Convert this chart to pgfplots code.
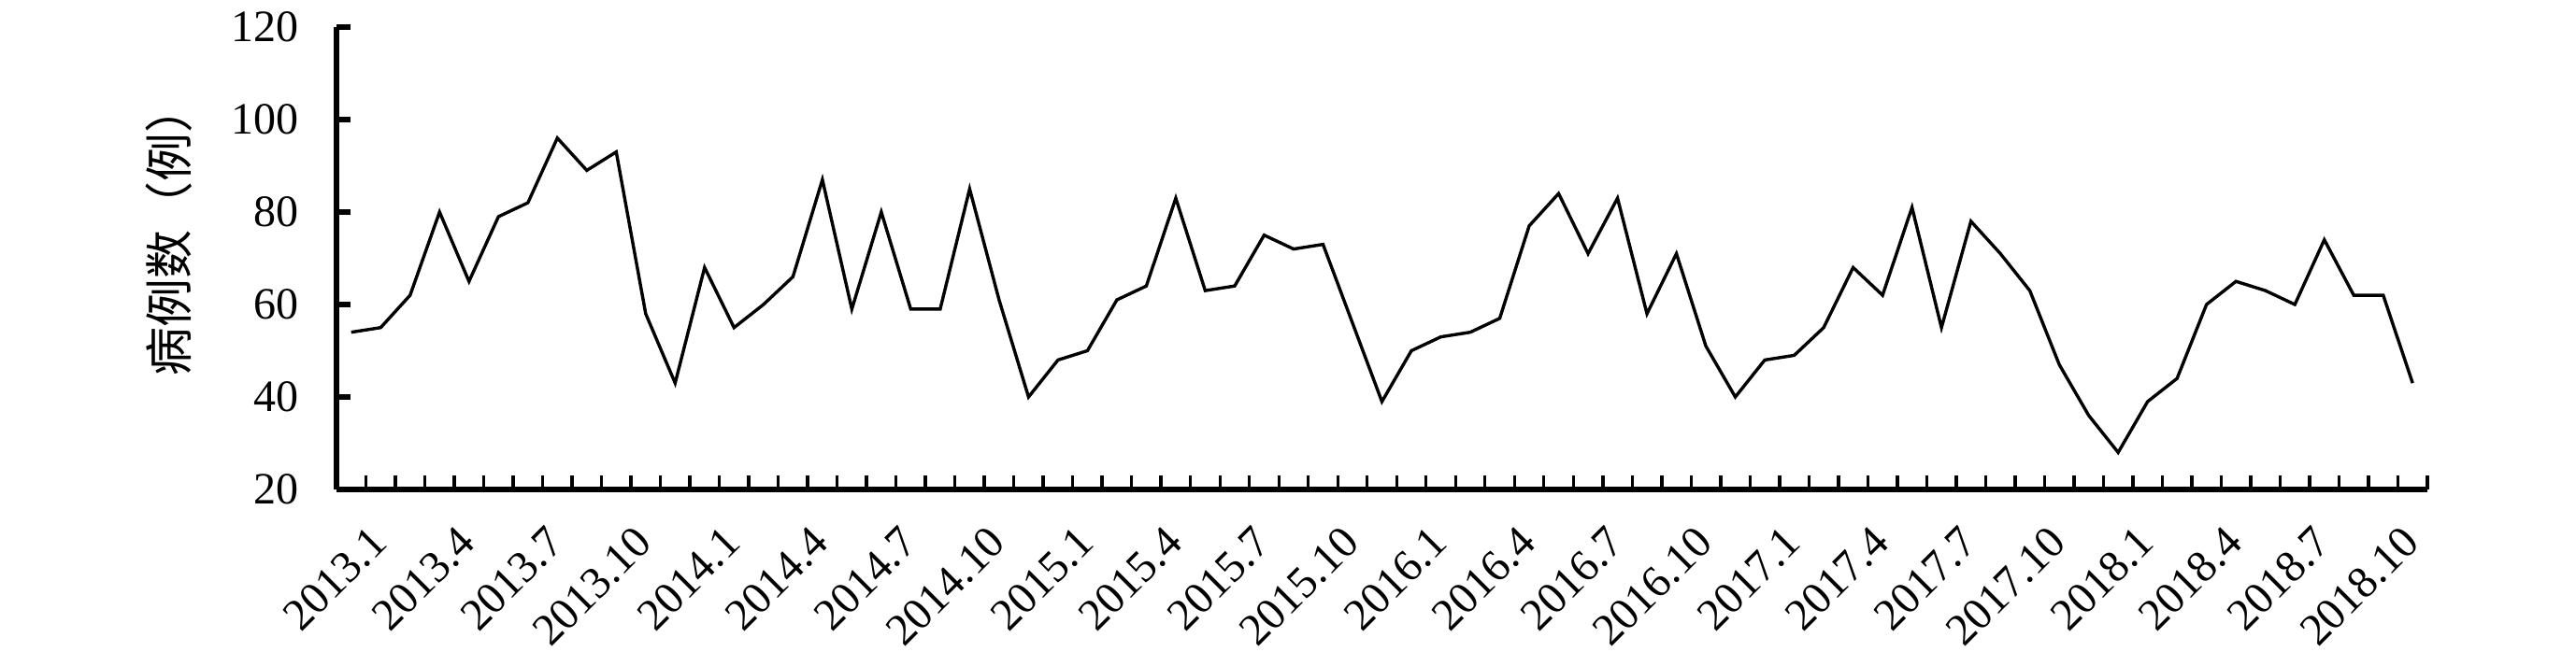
\documentclass[border=0pt]{standalone}
\usepackage{pgfplots}
\pgfplotsset{compat=1.18}
\usepackage{fontspec}
\setmainfont{Liberation Serif}
\newfontfamily\cjk{Noto Sans CJK SC}
\begin{document}
\begin{tikzpicture}
\useasboundingbox (-90pt,-47.25pt) rectangle (599pt,131pt);
\begin{axis}[
  at={(0,0)}, anchor=south west,
  scale only axis,
  width=559.25pt, height=123.75pt,
  xmin=-0.5, xmax=70.5,
  ymin=20, ymax=120,
  ytick={20,40,...,120},
  axis x line*=bottom, axis y line*=left,
  axis line style={line width=1.4pt, black},
  tick align=inside,
  major tick length=3.7pt,
  /pgf/number format/assume math mode=true,
  tick label style={font=\fontsize{12}{14}\selectfont},
  yticklabel style={xshift=-6.5pt},
  y tick style={line width=1.4pt, black},
  x tick style={line width=0.85pt, black},
  xtick={0.5,1.5,...,70.5},
  xticklabels={},
  extra x ticks={0,3,...,69},
  extra x tick labels={2013.1,2013.4,2013.7,2013.10,2014.1,2014.4,2014.7,2014.10,2015.1,2015.4,2015.7,2015.10,2016.1,2016.4,2016.7,2016.10,2017.1,2017.4,2017.7,2017.10,2018.1,2018.4,2018.7,2018.10},
  extra x tick style={major tick length=0pt, tick style={draw=none},
    xticklabel style={inner sep=0pt, xshift=4.5pt, yshift=-9pt, rotate=45, anchor=north east}},
  ylabel={\cjk 病例数（例）},
  ylabel style={at={(axis description cs:-0.08,0.56)}, anchor=center, rotate=0, font=\fontsize{13}{15}\selectfont},
  clip=false,
]
\addplot[black, line width=0.85pt, line join=miter] table[x expr=\coordindex, y index=0, header=false] {
54
55
62
80
65
79
82
96
89
93
58
43
68
55
60
66
87
59
80
59
59
85
61
40
48
50
61
64
83
63
64
75
72
73
56
39
50
53
54
57
77
84
71
83
58
71
51
40
48
49
55
68
62
81
55
78
71
63
47
36
28
39
44
60
65
63
60
74
62
62
43
};
\end{axis}
\end{tikzpicture}
\end{document}
